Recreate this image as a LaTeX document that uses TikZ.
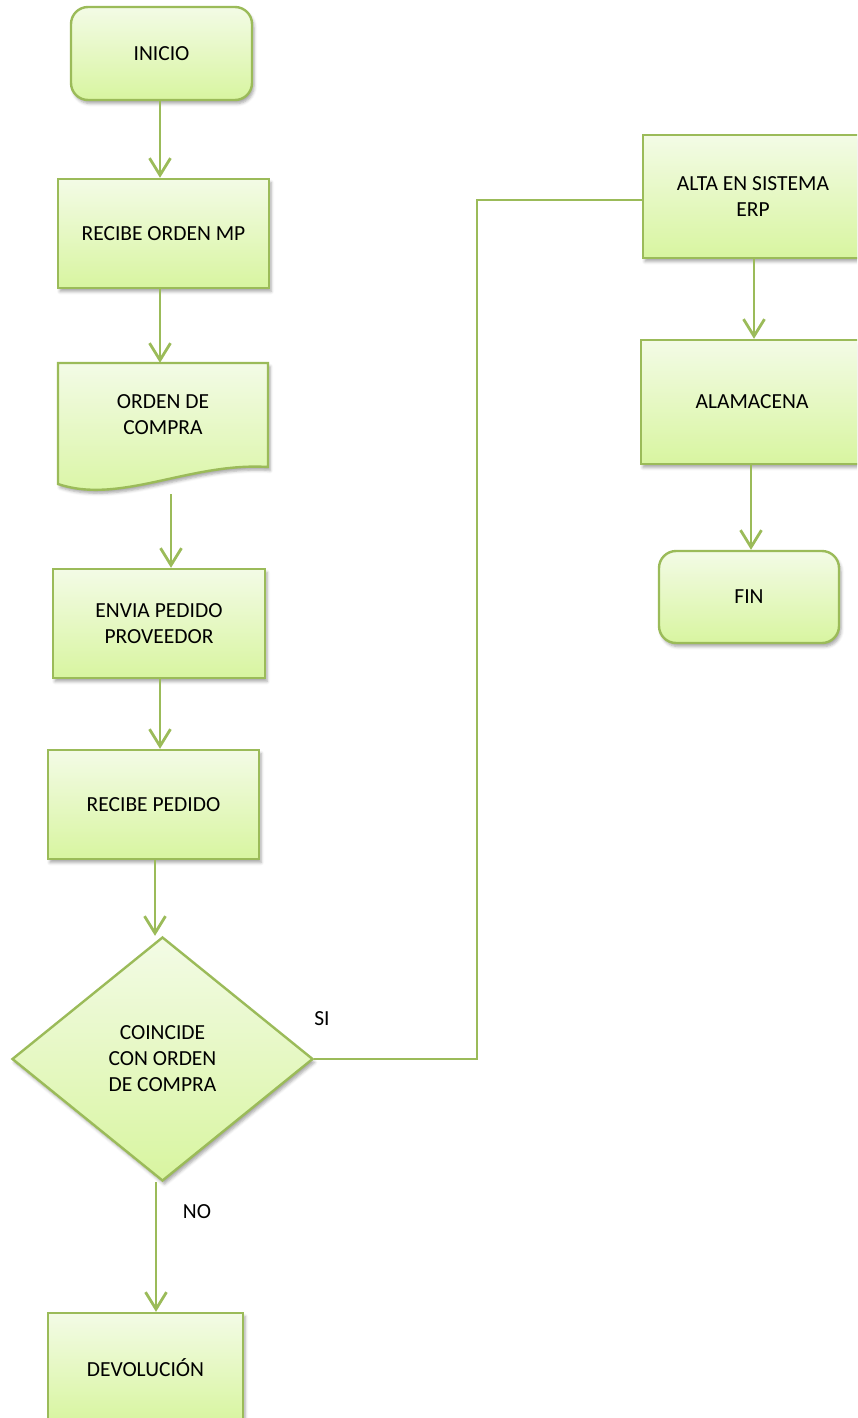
\documentclass[tikz,border=0pt]{standalone}
\usepackage{fontspec}
\setmainfont{Carlito}
\usetikzlibrary{shapes.geometric,arrows.meta,shadows.blur}
\definecolor{olive}{HTML}{9BBB59}
\definecolor{shtop}{HTML}{F3FBE6}
\definecolor{shbot}{HTML}{D8F5A0}
\tikzset{
  boxfill/.style={top color=shtop, bottom color=shbot, draw=olive, line width=2.4pt,
    blur shadow={shadow xshift=2pt, shadow yshift=-3.5pt, shadow blur radius=3pt, shadow opacity=35}},
  procbox/.style={boxfill, rectangle, inner sep=0pt, align=center,
    font=\fontsize{21.5}{26}\selectfont},
  termbox/.style={procbox, rounded corners=17pt},
  decbox/.style={boxfill, diamond, inner sep=0pt, align=center,
    font=\fontsize{21.5}{26}\selectfont},
  txtbox/.style={inner sep=0pt, align=center, font=\fontsize{21.5}{26}\selectfont},
  flow/.style={draw=olive, line width=2.8pt},
  arr/.style={flow, -{Straight Barb[length=17pt,width=21pt,line width=2.8pt]}},
}
\begin{document}
\begin{tikzpicture}[x=1pt, y=-1pt]
\useasboundingbox (0,0) rectangle (857,1418);
\clip (0,0) rectangle (857,1418);

% left column
\node[termbox, minimum width=181pt, minimum height=93pt] (inicio) at (161.5,53.5) {INICIO};
\node[procbox, minimum width=211pt, minimum height=109pt] (recibe) at (163.5,233.5) {RECIBE ORDEN MP};

% document shape with wavy lower edge
\path[boxfill] (58,363) -- (268,363) -- (268,467)
  .. controls (190,462) and (120,505) .. (58,484) -- cycle;
\node[txtbox, minimum width=210pt, minimum height=104pt] (orden) at (163,415) {ORDEN DE\\COMPRA};

\node[procbox, minimum width=212pt, minimum height=109pt] (envia) at (159,623.5) {ENVIA PEDIDO\\PROVEEDOR};
\node[procbox, minimum width=211pt, minimum height=109pt] (recped) at (153.5,804.5) {RECIBE PEDIDO};
\node[decbox, minimum width=301pt, minimum height=244pt] (coincide) at (162.5,1059) {COINCIDE\\CON ORDEN\\DE COMPRA};
\node[procbox, minimum width=195pt, minimum height=109pt] (devol) at (145.5,1367.5) {DEVOLUCIÓN};

% right column
\node[procbox, minimum width=220pt, minimum height=123pt] (alta) at (753,196.5) {ALTA EN SISTEMA\\ERP};
\node[procbox, minimum width=222pt, minimum height=124pt] (alam) at (752,402) {ALAMACENA};
\node[termbox, minimum width=180pt, minimum height=92pt] (fin) at (749,597) {FIN};

% branch labels
\node[txtbox] (si) at (322,1019) {SI};
\node[txtbox] (no) at (197,1212) {NO};

\coordinate (bend1) at (477,1059);
\coordinate (bend2) at (477,200);

% connectors
\draw[arr] ([xshift=-1.5pt]inicio.south) -- ([xshift=-3.5pt]recibe.north);
\draw[arr] ([xshift=-3.5pt]recibe.south) -- ([xshift=-3pt]orden.north);
\draw[arr] ([xshift=8pt,yshift=-27pt]orden.south) -- ([xshift=12pt]envia.north);
\draw[arr] ([xshift=1pt]envia.south) -- ([xshift=6.5pt]recped.north);
\draw[arr] ([xshift=1.5pt]recped.south) -- ([xshift=-7.5pt]coincide.north);
\draw[arr] ([xshift=-6.5pt]coincide.south) -- ([xshift=10.5pt]devol.north);
\draw[flow] (coincide.east) -- (bend1) -- (bend2) -- (alta.west |- bend2);
\draw[arr] ([xshift=1pt]alta.south) -- ([xshift=2pt]alam.north);
\draw[arr] ([xshift=-1pt]alam.south) -- ([xshift=2pt]fin.north);
\end{tikzpicture}
\end{document}
